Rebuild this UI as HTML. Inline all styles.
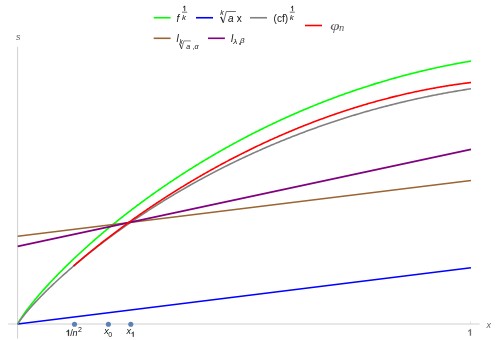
<!DOCTYPE html>
<html><head><meta charset="utf-8"><title>plot</title>
<style>
html,body{margin:0;padding:0;background:#fff;}
body{width:500px;height:340px;overflow:hidden;position:relative;font-family:"Liberation Sans",sans-serif;}
</style></head><body>
<svg width="500" height="340" viewBox="0 0 500 340" style="position:absolute;left:0;top:0;will-change:transform">
<g stroke="#d0d0d0" stroke-width="1" fill="none">
<line x1="8.2" y1="324.0" x2="479.6" y2="324.0"/>
<line x1="17.6" y1="46.8" x2="17.6" y2="338.6"/>
<line x1="470.5" y1="324" x2="470.5" y2="321.2" stroke-width="0.6"/>
</g>
<g fill="none" stroke-width="1.6" stroke-linejoin="round">
<path d="M17.70,324.30 L17.70,324.29 L17.71,324.27 L17.72,324.24 L17.73,324.20 L17.75,324.15 L17.77,324.09 L17.79,324.03 L17.82,323.96 L17.85,323.88 L17.88,323.80 L17.92,323.71 L17.96,323.61 L18.01,323.51 L18.06,323.41 L18.11,323.29 L18.17,323.18 L18.23,323.05 L18.29,322.93 L18.36,322.79 L18.43,322.65 L18.50,322.51 L18.58,322.36 L18.66,322.21 L18.75,322.05 L18.84,321.89 L18.93,321.72 L19.03,321.55 L19.13,321.37 L19.23,321.19 L19.34,321.00 L19.45,320.81 L19.56,320.62 L19.68,320.42 L19.80,320.21 L19.93,320.00 L20.06,319.79 L20.19,319.57 L20.33,319.35 L20.47,319.13 L20.61,318.90 L20.76,318.67 L20.91,318.43 L21.07,318.19 L21.22,317.94 L21.39,317.69 L21.55,317.44 L21.72,317.18 L21.89,316.92 L22.07,316.66 L22.25,316.39 L22.44,316.12 L22.62,315.84 L22.81,315.56 L23.01,315.28 L23.21,314.99 L23.41,314.70 L23.61,314.41 L23.82,314.11 L24.04,313.81 L24.25,313.50 L24.47,313.19 L24.70,312.88 L24.93,312.57 L25.16,312.25 L25.39,311.92 L25.63,311.60 L25.87,311.27 L26.12,310.93 L26.37,310.60 L26.62,310.26 L26.88,309.92 L27.14,309.57 L27.40,309.22 L27.67,308.87 L27.94,308.51 L28.22,308.15 L28.49,307.79 L28.78,307.42 L29.06,307.05 L29.35,306.68 L29.64,306.30 L29.94,305.93 L30.24,305.54 L30.55,305.16 L30.85,304.77 L31.16,304.38 L31.48,303.99 L31.80,303.59 L32.12,303.19 L32.45,302.79 L32.78,302.38 L33.11,301.97 L33.45,301.56 L33.79,301.14 L34.13,300.73 L34.48,300.30 L34.83,299.88 L35.18,299.45 L35.54,299.02 L35.90,298.59 L36.27,298.16 L36.64,297.72 L37.01,297.28 L37.39,296.84 L37.77,296.39 L38.15,295.94 L38.54,295.49 L38.93,295.03 L39.33,294.58 L39.73,294.12 L40.13,293.65 L40.54,293.19 L40.95,292.72 L41.36,292.25 L41.78,291.78 L42.20,291.30 L42.62,290.82 L43.05,290.34 L43.48,289.86 L43.91,289.37 L44.35,288.88 L44.80,288.39 L45.24,287.90 L45.69,287.40 L46.14,286.91 L46.60,286.40 L47.06,285.90 L47.53,285.40 L47.99,284.89 L48.47,284.38 L48.94,283.86 L49.42,283.35 L49.90,282.83 L50.39,282.31 L50.88,281.79 L51.37,281.26 L51.87,280.74 L52.37,280.21 L52.87,279.68 L53.38,279.14 L53.89,278.61 L54.41,278.07 L54.93,277.53 L55.45,276.98 L55.98,276.44 L56.51,275.89 L57.04,275.34 L57.58,274.79 L58.12,274.24 L58.66,273.68 L59.21,273.12 L59.76,272.56 L60.32,272.00 L60.87,271.44 L61.44,270.87 L62.00,270.31 L62.57,269.74 L63.15,269.16 L63.72,268.59 L64.30,268.01 L64.89,267.44 L65.48,266.86 L66.07,266.27 L66.66,265.69 L67.26,265.10 L67.86,264.52 L68.47,263.93 L69.08,263.34 L69.69,262.74 L70.31,262.15 L70.93,261.55 L71.56,260.95 L72.18,260.35 L72.82,259.75 L73.45,259.15 L74.09,258.54 L74.73,257.93 L75.38,257.33 L76.03,256.71 L76.68,256.10 L77.34,255.49 L78.00,254.87 L78.67,254.25 L79.33,253.64 L80.01,253.02 L80.68,252.39 L81.36,251.77 L82.04,251.14 L82.73,250.52 L83.42,249.89 L84.11,249.26 L84.81,248.63 L85.51,247.99 L86.22,247.36 L86.92,246.72 L87.64,246.09 L88.35,245.45 L89.07,244.81 L89.79,244.16 L90.52,243.52 L91.25,242.88 L91.98,242.23 L92.72,241.58 L93.46,240.93 L94.21,240.28 L94.95,239.63 L95.71,238.98 L96.46,238.33 L97.22,237.67 L97.98,237.01 L98.75,236.36 L99.52,235.70 L100.29,235.04 L101.07,234.38 L101.85,233.71 L102.64,233.05 L103.42,232.39 L104.22,231.72 L105.01,231.05 L105.81,230.38 L106.61,229.71 L107.42,229.04 L108.23,228.37 L109.04,227.70 L109.86,227.03 L110.68,226.35 L111.51,225.68 L112.34,225.00 L113.17,224.32 L114.00,223.64 L114.84,222.96 L115.69,222.28 L116.53,221.60 L117.38,220.92 L118.24,220.24 L119.09,219.55 L119.95,218.87 L120.82,218.18 L121.69,217.50 L122.56,216.81 L123.43,216.12 L124.31,215.43 L125.20,214.74 L126.08,214.05 L126.97,213.36 L127.87,212.67 L128.77,211.98 L129.67,211.28 L130.57,210.59 L131.48,209.89 L132.39,209.20 L133.31,208.50 L134.23,207.81 L135.15,207.11 L136.08,206.41 L137.01,205.71 L137.94,205.01 L138.88,204.32 L139.82,203.62 L140.76,202.92 L141.71,202.21 L142.66,201.51 L143.62,200.81 L144.58,200.11 L145.54,199.41 L146.51,198.70 L147.48,198.00 L148.45,197.30 L149.43,196.59 L150.41,195.89 L151.40,195.18 L152.39,194.48 L153.38,193.77 L154.37,193.07 L155.37,192.36 L156.38,191.65 L157.38,190.95 L158.39,190.24 L159.41,189.53 L160.43,188.83 L161.45,188.12 L162.47,187.41 L163.50,186.71 L164.53,186.00 L165.57,185.29 L166.61,184.58 L167.65,183.87 L168.70,183.17 L169.75,182.46 L170.80,181.75 L171.86,181.04 L172.92,180.33 L173.99,179.63 L175.05,178.92 L176.13,178.21 L177.20,177.50 L178.28,176.80 L179.37,176.09 L180.45,175.38 L181.54,174.67 L182.64,173.97 L183.73,173.26 L184.84,172.55 L185.94,171.85 L187.05,171.14 L188.16,170.43 L189.28,169.73 L190.40,169.02 L191.52,168.32 L192.65,167.61 L193.78,166.91 L194.91,166.20 L196.05,165.50 L197.19,164.80 L198.34,164.09 L199.49,163.39 L200.64,162.69 L201.79,161.99 L202.95,161.29 L204.12,160.59 L205.28,159.88 L206.45,159.19 L207.63,158.49 L208.81,157.79 L209.99,157.09 L211.17,156.39 L212.36,155.69 L213.55,155.00 L214.75,154.30 L215.95,153.61 L217.15,152.91 L218.36,152.22 L219.57,151.53 L220.78,150.84 L222.00,150.14 L223.22,149.45 L224.45,148.76 L225.68,148.07 L226.91,147.39 L228.15,146.70 L229.39,146.01 L230.63,145.33 L231.88,144.64 L233.13,143.96 L234.38,143.27 L235.64,142.59 L236.90,141.91 L238.17,141.23 L239.44,140.55 L240.71,139.87 L241.98,139.20 L243.26,138.52 L244.55,137.85 L245.83,137.17 L247.13,136.50 L248.42,135.83 L249.72,135.16 L251.02,134.49 L252.32,133.82 L253.63,133.15 L254.95,132.49 L256.26,131.82 L257.58,131.16 L258.91,130.50 L260.23,129.84 L261.56,129.18 L262.90,128.52 L264.24,127.87 L265.58,127.21 L266.92,126.56 L268.27,125.90 L269.62,125.25 L270.98,124.60 L272.34,123.96 L273.70,123.31 L275.07,122.66 L276.44,122.02 L277.82,121.38 L279.19,120.74 L280.58,120.10 L281.96,119.46 L283.35,118.83 L284.74,118.19 L286.14,117.56 L287.54,116.93 L288.94,116.30 L290.35,115.67 L291.76,115.05 L293.18,114.42 L294.59,113.80 L296.02,113.18 L297.44,112.56 L298.87,111.94 L300.30,111.33 L301.74,110.72 L303.18,110.11 L304.62,109.50 L306.07,108.89 L307.52,108.28 L308.98,107.68 L310.43,107.08 L311.90,106.48 L313.36,105.88 L314.83,105.29 L316.30,104.69 L317.78,104.10 L319.26,103.51 L320.74,102.93 L322.23,102.34 L323.72,101.76 L325.22,101.18 L326.71,100.60 L328.22,100.03 L329.72,99.45 L331.23,98.88 L332.74,98.31 L334.26,97.74 L335.78,97.18 L337.30,96.62 L338.83,96.06 L340.36,95.50 L341.90,94.94 L343.44,94.39 L344.98,93.84 L346.52,93.29 L348.07,92.75 L349.63,92.21 L351.18,91.67 L352.74,91.13 L354.31,90.59 L355.87,90.06 L357.44,89.53 L359.02,89.00 L360.60,88.48 L362.18,87.96 L363.76,87.44 L365.35,86.92 L366.95,86.41 L368.54,85.90 L370.14,85.39 L371.75,84.88 L373.36,84.38 L374.97,83.88 L376.58,83.38 L378.20,82.89 L379.82,82.40 L381.45,81.91 L383.08,81.42 L384.71,80.94 L386.35,80.46 L387.99,79.99 L389.63,79.51 L391.28,79.04 L392.93,78.57 L394.58,78.11 L396.24,77.65 L397.90,77.19 L399.57,76.74 L401.24,76.29 L402.91,75.84 L404.59,75.39 L406.27,74.95 L407.95,74.51 L409.64,74.08 L411.33,73.64 L413.03,73.22 L414.73,72.79 L416.43,72.37 L418.13,71.95 L419.84,71.53 L421.56,71.12 L423.27,70.71 L424.99,70.31 L426.72,69.91 L428.44,69.51 L430.18,69.12 L431.91,68.73 L433.65,68.34 L435.39,67.96 L437.14,67.58 L438.89,67.20 L440.64,66.83 L442.40,66.46 L444.16,66.09 L445.92,65.73 L447.69,65.38 L449.46,65.02 L451.24,64.67 L453.01,64.33 L454.80,63.98 L456.58,63.65 L458.37,63.31 L460.16,62.98 L461.96,62.66 L463.76,62.33 L465.57,62.01 L467.37,61.70 L469.18,61.39 L471.00,61.08" stroke="#00ff00"/>
<line x1="17.7" y1="324.0" x2="471.0" y2="267.8" stroke="#0000ff"/>
<path d="M17.70,324.30 L17.70,324.29 L17.71,324.27 L17.72,324.25 L17.73,324.22 L17.75,324.18 L17.77,324.13 L17.79,324.08 L17.82,324.02 L17.85,323.95 L17.88,323.88 L17.92,323.81 L17.96,323.73 L18.01,323.64 L18.06,323.55 L18.11,323.46 L18.17,323.36 L18.23,323.25 L18.29,323.14 L18.36,323.03 L18.43,322.91 L18.50,322.78 L18.58,322.66 L18.66,322.52 L18.75,322.39 L18.84,322.25 L18.93,322.10 L19.03,321.95 L19.13,321.80 L19.23,321.64 L19.34,321.48 L19.45,321.31 L19.56,321.14 L19.68,320.97 L19.80,320.79 L19.93,320.61 L20.06,320.43 L20.19,320.24 L20.33,320.04 L20.47,319.85 L20.61,319.65 L20.76,319.44 L20.91,319.24 L21.07,319.02 L21.22,318.81 L21.39,318.59 L21.55,318.37 L21.72,318.14 L21.89,317.91 L22.07,317.68 L22.25,317.45 L22.44,317.21 L22.62,316.96 L22.81,316.72 L23.01,316.47 L23.21,316.21 L23.41,315.96 L23.61,315.70 L23.82,315.43 L24.04,315.17 L24.25,314.90 L24.47,314.62 L24.70,314.35 L24.93,314.07 L25.16,313.79 L25.39,313.50 L25.63,313.21 L25.87,312.92 L26.12,312.62 L26.37,312.33 L26.62,312.03 L26.88,311.72 L27.14,311.41 L27.40,311.10 L27.67,310.79 L27.94,310.47 L28.22,310.15 L28.49,309.83 L28.78,309.51 L29.06,309.18 L29.35,308.85 L29.64,308.51 L29.94,308.17 L30.24,307.83 L30.55,307.49 L30.85,307.15 L31.16,306.80 L31.48,306.45 L31.80,306.09 L32.12,305.74 L32.45,305.38 L32.78,305.01 L33.11,304.65 L33.45,304.28 L33.79,303.91 L34.13,303.54 L34.48,303.16 L34.83,302.78 L35.18,302.40 L35.54,302.02 L35.90,301.63 L36.27,301.24 L36.64,300.85 L37.01,300.46 L37.39,300.06 L37.77,299.66 L38.15,299.26 L38.54,298.85 L38.93,298.45 L39.33,298.04 L39.73,297.63 L40.13,297.21 L40.54,296.79 L40.95,296.38 L41.36,295.95 L41.78,295.53 L42.20,295.10 L42.62,294.67 L43.05,294.24 L43.48,293.81 L43.91,293.37 L44.35,292.94 L44.80,292.49 L45.24,292.05 L45.69,291.61 L46.14,291.16 L46.60,290.71 L47.06,290.26 L47.53,289.80 L47.99,289.35 L48.47,288.89 L48.94,288.43 L49.42,287.96 L49.90,287.50 L50.39,287.03 L50.88,286.56 L51.37,286.09 L51.87,285.62 L52.37,285.14 L52.87,284.66 L53.38,284.18 L53.89,283.70 L54.41,283.22 L54.93,282.73 L55.45,282.24 L55.98,281.75 L56.51,281.26 L57.04,280.77 L57.58,280.27 L58.12,279.77 L58.66,279.27 L59.21,278.77 L59.76,278.27 L60.32,277.76 L60.87,277.25 L61.44,276.74 L62.00,276.23 L62.57,275.72 L63.15,275.20 L63.72,274.69 L64.30,274.17 L64.89,273.65 L65.48,273.13 L66.07,272.60 L66.66,272.08 L67.26,271.55 L67.86,271.02 L68.47,270.49 L69.08,269.96 L69.69,269.42 L70.31,268.89 L70.93,268.35 L71.56,267.81 L72.18,267.27 L72.82,266.73 L73.45,266.18 L74.09,265.64 L74.73,265.09 L75.38,264.54 L76.03,263.99 L76.68,263.44 L77.34,262.88 L78.00,262.33 L78.67,261.77 L79.33,261.21 L80.01,260.65 L80.68,260.09 L81.36,259.53 L82.04,258.97 L82.73,258.40 L83.42,257.83 L84.11,257.27 L84.81,256.70 L85.51,256.13 L86.22,255.55 L86.92,254.98 L87.64,254.41 L88.35,253.83 L89.07,253.25 L89.79,252.67 L90.52,252.09 L91.25,251.51 L91.98,250.93 L92.72,250.35 L93.46,249.76 L94.21,249.18 L94.95,248.59 L95.71,248.00 L96.46,247.41 L97.22,246.82 L97.98,246.23 L98.75,245.63 L99.52,245.04 L100.29,244.45 L101.07,243.85 L101.85,243.25 L102.64,242.65 L103.42,242.05 L104.22,241.45 L105.01,240.85 L105.81,240.25 L106.61,239.65 L107.42,239.04 L108.23,238.44 L109.04,237.83 L109.86,237.22 L110.68,236.62 L111.51,236.01 L112.34,235.40 L113.17,234.79 L114.00,234.17 L114.84,233.56 L115.69,232.95 L116.53,232.33 L117.38,231.72 L118.24,231.10 L119.09,230.49 L119.95,229.87 L120.82,229.25 L121.69,228.63 L122.56,228.02 L123.43,227.40 L124.31,226.77 L125.20,226.15 L126.08,225.53 L126.97,224.91 L127.87,224.29 L128.77,223.66 L129.67,223.04 L130.57,222.41 L131.48,221.79 L132.39,221.16 L133.31,220.53 L134.23,219.91 L135.15,219.28 L136.08,218.65 L137.01,218.02 L137.94,217.39 L138.88,216.77 L139.82,216.14 L140.76,215.50 L141.71,214.87 L142.66,214.24 L143.62,213.61 L144.58,212.98 L145.54,212.35 L146.51,211.72 L147.48,211.08 L148.45,210.45 L149.43,209.82 L150.41,209.18 L151.40,208.55 L152.39,207.91 L153.38,207.28 L154.37,206.65 L155.37,206.01 L156.38,205.38 L157.38,204.74 L158.39,204.11 L159.41,203.47 L160.43,202.83 L161.45,202.20 L162.47,201.56 L163.50,200.93 L164.53,200.29 L165.57,199.66 L166.61,199.02 L167.65,198.38 L168.70,197.75 L169.75,197.11 L170.80,196.48 L171.86,195.84 L172.92,195.21 L173.99,194.57 L175.05,193.93 L176.13,193.30 L177.20,192.66 L178.28,192.03 L179.37,191.39 L180.45,190.76 L181.54,190.12 L182.64,189.49 L183.73,188.86 L184.84,188.22 L185.94,187.59 L187.05,186.95 L188.16,186.32 L189.28,185.69 L190.40,185.06 L191.52,184.42 L192.65,183.79 L193.78,183.16 L194.91,182.53 L196.05,181.90 L197.19,181.27 L198.34,180.64 L199.49,180.01 L200.64,179.38 L201.79,178.75 L202.95,178.12 L204.12,177.49 L205.28,176.87 L206.45,176.24 L207.63,175.61 L208.81,174.99 L209.99,174.36 L211.17,173.74 L212.36,173.12 L213.55,172.49 L214.75,171.87 L215.95,171.25 L217.15,170.63 L218.36,170.01 L219.57,169.39 L220.78,168.77 L222.00,168.15 L223.22,167.53 L224.45,166.91 L225.68,166.30 L226.91,165.68 L228.15,165.07 L229.39,164.45 L230.63,163.84 L231.88,163.23 L233.13,162.62 L234.38,162.01 L235.64,161.40 L236.90,160.79 L238.17,160.18 L239.44,159.58 L240.71,158.97 L241.98,158.37 L243.26,157.76 L244.55,157.16 L245.83,156.56 L247.13,155.96 L248.42,155.36 L249.72,154.76 L251.02,154.16 L252.32,153.57 L253.63,152.97 L254.95,152.38 L256.26,151.79 L257.58,151.20 L258.91,150.61 L260.23,150.02 L261.56,149.43 L262.90,148.84 L264.24,148.26 L265.58,147.67 L266.92,147.09 L268.27,146.51 L269.62,145.93 L270.98,145.35 L272.34,144.77 L273.70,144.20 L275.07,143.62 L276.44,143.05 L277.82,142.48 L279.19,141.91 L280.58,141.34 L281.96,140.77 L283.35,140.20 L284.74,139.64 L286.14,139.08 L287.54,138.52 L288.94,137.96 L290.35,137.40 L291.76,136.84 L293.18,136.29 L294.59,135.73 L296.02,135.18 L297.44,134.63 L298.87,134.08 L300.30,133.53 L301.74,132.99 L303.18,132.45 L304.62,131.90 L306.07,131.36 L307.52,130.83 L308.98,130.29 L310.43,129.76 L311.90,129.22 L313.36,128.69 L314.83,128.16 L316.30,127.64 L317.78,127.11 L319.26,126.59 L320.74,126.06 L322.23,125.55 L323.72,125.03 L325.22,124.51 L326.71,124.00 L328.22,123.49 L329.72,122.98 L331.23,122.47 L332.74,121.96 L334.26,121.46 L335.78,120.96 L337.30,120.46 L338.83,119.96 L340.36,119.47 L341.90,118.97 L343.44,118.48 L344.98,117.99 L346.52,117.51 L348.07,117.02 L349.63,116.54 L351.18,116.06 L352.74,115.58 L354.31,115.11 L355.87,114.64 L357.44,114.17 L359.02,113.70 L360.60,113.23 L362.18,112.77 L363.76,112.31 L365.35,111.85 L366.95,111.39 L368.54,110.94 L370.14,110.49 L371.75,110.04 L373.36,109.59 L374.97,109.15 L376.58,108.70 L378.20,108.27 L379.82,107.83 L381.45,107.39 L383.08,106.96 L384.71,106.53 L386.35,106.11 L387.99,105.68 L389.63,105.26 L391.28,104.85 L392.93,104.43 L394.58,104.02 L396.24,103.61 L397.90,103.20 L399.57,102.80 L401.24,102.39 L402.91,101.99 L404.59,101.60 L406.27,101.20 L407.95,100.81 L409.64,100.43 L411.33,100.04 L413.03,99.66 L414.73,99.28 L416.43,98.90 L418.13,98.53 L419.84,98.16 L421.56,97.79 L423.27,97.43 L424.99,97.07 L426.72,96.71 L428.44,96.35 L430.18,96.00 L431.91,95.65 L433.65,95.30 L435.39,94.96 L437.14,94.62 L438.89,94.28 L440.64,93.95 L442.40,93.62 L444.16,93.29 L445.92,92.97 L447.69,92.65 L449.46,92.33 L451.24,92.01 L453.01,91.70 L454.80,91.40 L456.58,91.09 L458.37,90.79 L460.16,90.49 L461.96,90.20 L463.76,89.91 L465.57,89.62 L467.37,89.33 L469.18,89.05 L471.00,88.77" stroke="#808080"/>
<line x1="17.7" y1="236.2" x2="471.0" y2="180.5" stroke="#996633"/>
<line x1="17.7" y1="246.4" x2="471.0" y2="149.4" stroke="#800080"/>
<path d="M73.50,266.06 L74.50,265.20 L75.49,264.34 L76.49,263.48 L77.48,262.62 L78.48,261.77 L79.48,260.92 L80.47,260.08 L81.47,259.24 L82.47,258.40 L83.46,257.56 L84.46,256.73 L85.45,255.90 L86.45,255.07 L87.45,254.25 L88.44,253.43 L89.44,252.61 L90.44,251.79 L91.43,250.98 L92.43,250.17 L93.42,249.36 L94.42,248.56 L95.42,247.76 L96.41,246.96 L97.41,246.16 L98.41,245.37 L99.40,244.58 L100.40,243.79 L101.39,243.00 L102.39,242.22 L103.39,241.44 L104.38,240.66 L105.38,239.89 L106.38,239.11 L107.37,238.34 L108.37,237.58 L109.36,236.81 L110.36,236.05 L111.36,235.29 L112.35,234.53 L113.35,233.78 L114.35,233.02 L115.34,232.27 L116.34,231.52 L117.33,230.78 L118.33,230.03 L119.33,229.29 L120.32,228.55 L121.32,227.82 L122.32,227.08 L123.31,226.35 L124.31,225.62 L125.30,224.90 L126.30,224.17 L127.30,223.45 L128.29,222.73 L129.29,222.01 L130.29,221.29 L131.28,220.58 L132.28,219.87 L133.27,219.16 L134.27,218.45 L135.27,217.74 L136.26,217.04 L137.26,216.34 L138.26,215.64 L139.25,214.95 L140.25,214.25 L141.24,213.56 L142.24,212.87 L143.24,212.18 L144.23,211.50 L145.23,210.81 L146.23,210.13 L147.22,209.45 L148.22,208.77 L149.21,208.10 L150.21,207.42 L151.21,206.75 L152.20,206.08 L153.20,205.42 L154.20,204.75 L155.19,204.09 L156.19,203.43 L157.18,202.77 L158.18,202.11 L159.18,201.46 L160.17,200.80 L161.17,200.15 L162.17,199.50 L163.16,198.86 L164.16,198.21 L165.15,197.57 L166.15,196.93 L167.15,196.29 L168.14,195.65 L169.14,195.01 L170.14,194.38 L171.13,193.75 L172.13,193.12 L173.12,192.49 L174.12,191.87 L175.12,191.24 L176.11,190.62 L177.11,190.00 L178.11,189.38 L179.10,188.77 L180.10,188.15 L181.09,187.54 L182.09,186.93 L183.09,186.32 L184.08,185.72 L185.08,185.11 L186.08,184.51 L187.07,183.91 L188.07,183.31 L189.06,182.71 L190.06,182.12 L191.06,181.52 L192.05,180.93 L193.05,180.34 L194.05,179.75 L195.04,179.17 L196.04,178.58 L197.03,178.00 L198.03,177.42 L199.03,176.84 L200.02,176.26 L201.02,175.69 L202.02,175.12 L203.01,174.54 L204.01,173.98 L205.00,173.41 L206.00,172.84 L207.00,172.28 L207.99,171.72 L208.99,171.15 L209.98,170.60 L210.98,170.04 L211.98,169.48 L212.97,168.93 L213.97,168.38 L214.97,167.83 L215.96,167.28 L216.96,166.74 L217.95,166.19 L218.95,165.65 L219.95,165.11 L220.94,164.57 L221.94,164.03 L222.94,163.50 L223.93,162.96 L224.93,162.43 L225.92,161.90 L226.92,161.37 L227.92,160.85 L228.91,160.32 L229.91,159.80 L230.91,159.28 L231.90,158.76 L232.90,158.24 L233.89,157.72 L234.89,157.21 L235.89,156.70 L236.88,156.19 L237.88,155.68 L238.88,155.17 L239.87,154.66 L240.87,154.16 L241.86,153.66 L242.86,153.16 L243.86,152.66 L244.85,152.16 L245.85,151.67 L246.85,151.17 L247.84,150.68 L248.84,150.19 L249.83,149.70 L250.83,149.22 L251.83,148.73 L252.82,148.25 L253.82,147.77 L254.82,147.29 L255.81,146.81 L256.81,146.33 L257.80,145.86 L258.80,145.39 L259.80,144.91 L260.79,144.44 L261.79,143.98 L262.79,143.51 L263.78,143.05 L264.78,142.58 L265.77,142.12 L266.77,141.66 L267.77,141.21 L268.76,140.75 L269.76,140.30 L270.76,139.84 L271.75,139.39 L272.75,138.94 L273.74,138.50 L274.74,138.05 L275.74,137.61 L276.73,137.16 L277.73,136.72 L278.73,136.29 L279.72,135.85 L280.72,135.41 L281.71,134.98 L282.71,134.55 L283.71,134.12 L284.70,133.69 L285.70,133.26 L286.70,132.83 L287.69,132.41 L288.69,131.99 L289.68,131.57 L290.68,131.15 L291.68,130.73 L292.67,130.32 L293.67,129.90 L294.67,129.49 L295.66,129.08 L296.66,128.67 L297.65,128.27 L298.65,127.86 L299.65,127.46 L300.64,127.05 L301.64,126.65 L302.64,126.26 L303.63,125.86 L304.63,125.46 L305.62,125.07 L306.62,124.68 L307.62,124.29 L308.61,123.90 L309.61,123.51 L310.61,123.13 L311.60,122.74 L312.60,122.36 L313.59,121.98 L314.59,121.60 L315.59,121.22 L316.58,120.85 L317.58,120.47 L318.58,120.10 L319.57,119.73 L320.57,119.36 L321.56,119.00 L322.56,118.63 L323.56,118.27 L324.55,117.90 L325.55,117.54 L326.55,117.19 L327.54,116.83 L328.54,116.47 L329.53,116.12 L330.53,115.77 L331.53,115.42 L332.52,115.07 L333.52,114.72 L334.52,114.37 L335.51,114.03 L336.51,113.69 L337.50,113.35 L338.50,113.01 L339.50,112.67 L340.49,112.33 L341.49,112.00 L342.48,111.67 L343.48,111.34 L344.48,111.01 L345.47,110.68 L346.47,110.35 L347.47,110.03 L348.46,109.71 L349.46,109.39 L350.45,109.07 L351.45,108.75 L352.45,108.43 L353.44,108.12 L354.44,107.81 L355.44,107.49 L356.43,107.19 L357.43,106.88 L358.42,106.57 L359.42,106.27 L360.42,105.96 L361.41,105.66 L362.41,105.36 L363.41,105.07 L364.40,104.77 L365.40,104.47 L366.39,104.18 L367.39,103.89 L368.39,103.60 L369.38,103.31 L370.38,103.03 L371.38,102.74 L372.37,102.46 L373.37,102.18 L374.36,101.90 L375.36,101.62 L376.36,101.34 L377.35,101.07 L378.35,100.79 L379.35,100.52 L380.34,100.25 L381.34,99.98 L382.33,99.71 L383.33,99.45 L384.33,99.19 L385.32,98.92 L386.32,98.66 L387.32,98.41 L388.31,98.15 L389.31,97.89 L390.30,97.64 L391.30,97.39 L392.30,97.14 L393.29,96.89 L394.29,96.64 L395.29,96.39 L396.28,96.15 L397.28,95.91 L398.27,95.67 L399.27,95.43 L400.27,95.19 L401.26,94.96 L402.26,94.72 L403.26,94.49 L404.25,94.26 L405.25,94.03 L406.24,93.80 L407.24,93.58 L408.24,93.35 L409.23,93.13 L410.23,92.91 L411.23,92.69 L412.22,92.47 L413.22,92.26 L414.21,92.04 L415.21,91.83 L416.21,91.62 L417.20,91.41 L418.20,91.20 L419.20,90.99 L420.19,90.79 L421.19,90.59 L422.18,90.38 L423.18,90.18 L424.18,89.99 L425.17,89.79 L426.17,89.60 L427.17,89.40 L428.16,89.21 L429.16,89.02 L430.15,88.83 L431.15,88.65 L432.15,88.46 L433.14,88.28 L434.14,88.10 L435.14,87.92 L436.13,87.74 L437.13,87.56 L438.12,87.39 L439.12,87.21 L440.12,87.04 L441.11,86.87 L442.11,86.70 L443.11,86.54 L444.10,86.37 L445.10,86.21 L446.09,86.04 L447.09,85.88 L448.09,85.73 L449.08,85.57 L450.08,85.41 L451.08,85.26 L452.07,85.11 L453.07,84.96 L454.06,84.81 L455.06,84.66 L456.06,84.52 L457.05,84.37 L458.05,84.23 L459.05,84.09 L460.04,83.95 L461.04,83.81 L462.03,83.68 L463.03,83.54 L464.03,83.41 L465.02,83.28 L466.02,83.15 L467.02,83.02 L468.01,82.90 L469.01,82.77 L470.00,82.65 L471.00,82.53" stroke="#ff0000"/>
</g>
<circle cx="74.5" cy="324.2" r="2.55" fill="#5e81b5"/>
<circle cx="108.4" cy="324.2" r="2.55" fill="#5e81b5"/>
<circle cx="130.8" cy="324.2" r="2.55" fill="#5e81b5"/>
<g fill="none" stroke-width="1.6">
<line x1="153.7" y1="17.75" x2="170.6" y2="17.75" stroke="#00ff00"/>
<line x1="196" y1="17.75" x2="213" y2="17.75" stroke="#0000ff"/>
<line x1="250" y1="17.75" x2="267" y2="17.75" stroke="#808080"/>
<line x1="305" y1="25.5" x2="322" y2="25.5" stroke="#ff0000"/>
<line x1="153.7" y1="38.3" x2="170.6" y2="38.3" stroke="#996633"/>
<line x1="208" y1="38.3" x2="224.9" y2="38.3" stroke="#800080"/>
</g>
<text x="176.6" y="21.6" style="font-family:'Liberation Sans',sans-serif;font-size:10px;font-style:italic" fill="#111" text-anchor="start">f</text>
<path transform="translate(182.4,10.9) scale(7.3)" d="M0.373,0 L0.285,0 L0.285,-0.56 Q0.253,-0.53 0.2,-0.5 Q0.15,-0.47 0.11,-0.455 L0.11,-0.54 Q0.183,-0.574 0.238,-0.623 Q0.293,-0.672 0.316,-0.718 L0.373,-0.718 Z" fill="#111" stroke="#111" stroke-width="0.02"/>
<line x1="182" y1="12.2" x2="187.2" y2="12.2" stroke="#111" stroke-width="0.6"/>
<text x="181.9" y="20" style="font-family:'Liberation Sans',sans-serif;font-size:8px;font-style:italic" fill="#111" text-anchor="start">k</text>
<text x="220.2" y="15.2" style="font-family:'Liberation Sans',sans-serif;font-size:7px;font-style:italic" fill="#111" text-anchor="start">k</text>
<path d="M220.2,17.6 L221.2,17.0" fill="none" stroke="#111" stroke-width="0.6"/>
<path d="M221.0,17.0 L223.3,22.6" fill="none" stroke="#111" stroke-width="1.1"/>
<path d="M223.3,22.8 L226.3,11.5 L235.8,11.5" fill="none" stroke="#111" stroke-width="0.6"/>
<text x="228.0" y="21.6" style="font-family:'Liberation Sans',sans-serif;font-size:10px;font-style:italic" fill="#111" text-anchor="start">a</text>
<text x="236.8" y="21.6" style="font-family:'Liberation Sans',sans-serif;font-size:10px" fill="#111" text-anchor="start">x</text>
<text x="273.6" y="21.6" style="font-family:'Liberation Sans',sans-serif;font-size:10px" fill="#111" text-anchor="start">(cf)</text>
<path transform="translate(290.3,11.1) scale(7.3)" d="M0.373,0 L0.285,0 L0.285,-0.56 Q0.253,-0.53 0.2,-0.5 Q0.15,-0.47 0.11,-0.455 L0.11,-0.54 Q0.183,-0.574 0.238,-0.623 Q0.293,-0.672 0.316,-0.718 L0.373,-0.718 Z" fill="#111" stroke="#111" stroke-width="0.02"/>
<line x1="289.8" y1="12.2" x2="294.8" y2="12.2" stroke="#111" stroke-width="0.6"/>
<text x="289.8" y="20" style="font-family:'Liberation Sans',sans-serif;font-size:8px;font-style:italic" fill="#111" text-anchor="start">k</text>
<text transform="translate(330.2,29.6) scale(1.35,1)" style="font-family:'Liberation Serif',serif;font-size:12.5px;font-style:italic" fill="#5a5a5a" text-anchor="start">&#966;</text>
<text transform="translate(339.0,31.1) scale(1.1,1)" style="font-family:'Liberation Serif',serif;font-size:9.5px;font-style:italic" fill="#5a5a5a" text-anchor="start">n</text>
<text x="176.6" y="41.6" style="font-family:'Liberation Sans',sans-serif;font-size:10px;font-style:italic" fill="#111" text-anchor="start">l</text>
<text x="179.5" y="44" style="font-family:'Liberation Sans',sans-serif;font-size:6.5px;font-style:italic" fill="#111" text-anchor="start">k</text>
<path d="M179.3,44.4 L180.0,44.0" fill="none" stroke="#111" stroke-width="0.5"/>
<path d="M179.9,44.0 L181.5,48.8" fill="none" stroke="#111" stroke-width="0.9"/>
<path d="M181.5,49 L183.9,40.9 L190.8,40.9" fill="none" stroke="#111" stroke-width="0.5"/>
<text x="186.2" y="48.6" style="font-family:'Liberation Sans',sans-serif;font-size:7px;font-style:italic" fill="#111" text-anchor="start">a</text>
<text x="192.4" y="48.6" style="font-family:'Liberation Sans',sans-serif;font-size:7px" fill="#111" text-anchor="start">,</text>
<text x="194.6" y="48.6" style="font-family:'Liberation Sans',sans-serif;font-size:7px;font-style:italic" fill="#111" text-anchor="start">&#945;</text>
<text x="231" y="41.6" style="font-family:'Liberation Sans',sans-serif;font-size:10px;font-style:italic" fill="#111" text-anchor="start">l</text>
<text x="233.2" y="43.6" style="font-family:'Liberation Sans',sans-serif;font-size:8px;font-style:italic" fill="#111" text-anchor="start">&#955;</text>
<text x="238.2" y="43.8" style="font-family:'Liberation Sans',sans-serif;font-size:8px" fill="#111" text-anchor="start">,</text>
<text x="240.0" y="43.2" style="font-family:'Liberation Sans',sans-serif;font-size:8px;font-style:italic" fill="#111" text-anchor="start">&#946;</text>
<text x="16.0" y="39.8" style="font-family:'Liberation Sans',sans-serif;font-size:9px;font-style:italic" fill="#666" text-anchor="start">s</text>
<text x="486.6" y="327.6" style="font-family:'Liberation Sans',sans-serif;font-size:9px;font-style:italic" fill="#666" text-anchor="start">x</text>
<path transform="translate(467.4,335.6) scale(9)" d="M0.373,0 L0.285,0 L0.285,-0.56 Q0.253,-0.53 0.2,-0.5 Q0.15,-0.47 0.11,-0.455 L0.11,-0.54 Q0.183,-0.574 0.238,-0.623 Q0.293,-0.672 0.316,-0.718 L0.373,-0.718 Z" fill="#555" stroke="#555" stroke-width="0.035"/>
<path transform="translate(65.7,335.8) scale(8.4)" d="M0.373,0 L0.285,0 L0.285,-0.56 Q0.253,-0.53 0.2,-0.5 Q0.15,-0.47 0.11,-0.455 L0.11,-0.54 Q0.183,-0.574 0.238,-0.623 Q0.293,-0.672 0.316,-0.718 L0.373,-0.718 Z" fill="#111" stroke="#111" stroke-width="0.035"/>
<text x="70.2" y="335.8" style="font-family:'Liberation Sans',sans-serif;font-size:9px" fill="#111" text-anchor="start">/</text>
<text x="72.6" y="335.8" style="font-family:'Liberation Sans',sans-serif;font-size:9px;font-style:italic" fill="#111" text-anchor="start">n</text>
<text x="77.9" y="331.6" style="font-family:'Liberation Sans',sans-serif;font-size:7px" fill="#111" text-anchor="start">2</text>
<text x="104.2" y="334.4" style="font-family:'Liberation Sans',sans-serif;font-size:9px;font-style:italic" fill="#111" text-anchor="start">x</text>
<text x="108.3" y="336.8" style="font-family:'Liberation Sans',sans-serif;font-size:7px" fill="#111" text-anchor="start">0</text>
<text x="126.6" y="334.4" style="font-family:'Liberation Sans',sans-serif;font-size:9px;font-style:italic" fill="#111" text-anchor="start">x</text>
<path transform="translate(130.9,336.8) scale(7)" d="M0.373,0 L0.285,0 L0.285,-0.56 Q0.253,-0.53 0.2,-0.5 Q0.15,-0.47 0.11,-0.455 L0.11,-0.54 Q0.183,-0.574 0.238,-0.623 Q0.293,-0.672 0.316,-0.718 L0.373,-0.718 Z" fill="#111" stroke="#111" stroke-width="0.035"/>
</svg>
</body></html>
